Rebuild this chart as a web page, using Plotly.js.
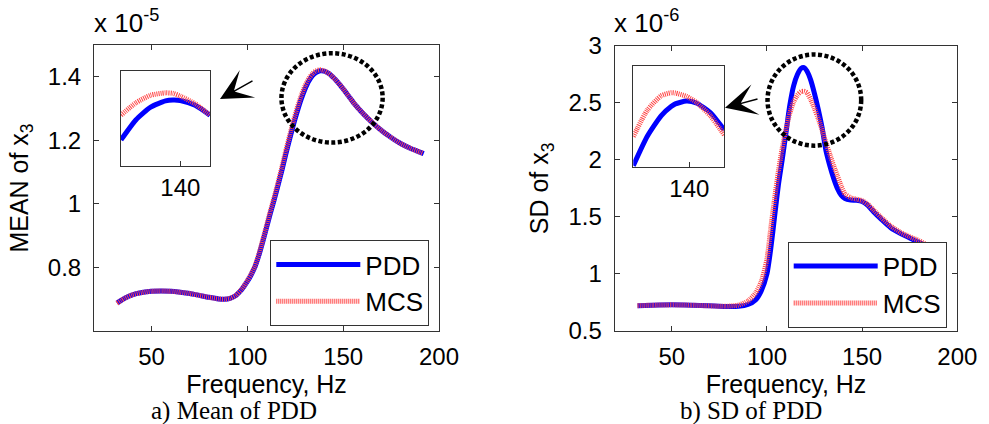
<!DOCTYPE html>
<html>
<head>
<meta charset="utf-8">
<script src="https://cdn.plot.ly/plotly-3.0.1.min.js"></script>
<style>html,body{margin:0;padding:0;background:#fff;}#chart{width:989px;height:424px;}</style>
</head>
<body>
<div id="chart"></div>
<script>
// ---- Left panel: mean of x3 (x 1e-5) ----
const meanFreq = [32,36,40,45,50,55,60,65,70,75,80,85,88,91,94,97,100,102,104,106,108,110,112,114,116,118,120,122,124,126,128,130,132,134,136,138,140,142,144,146,148,150,153,156,160,165,170,175,180,185,190,192];
const meanPDD  = [0.688,0.703,0.714,0.721,0.725,0.726,0.725,0.722,0.718,0.712,0.706,0.701,0.700,0.703,0.712,0.730,0.756,0.777,0.802,0.838,0.880,0.925,0.970,1.013,1.058,1.105,1.155,1.202,1.248,1.290,1.328,1.360,1.386,1.404,1.414,1.419,1.418,1.412,1.403,1.391,1.377,1.362,1.338,1.314,1.287,1.257,1.231,1.209,1.190,1.175,1.163,1.158];
const meanMCS  = [0.688,0.703,0.714,0.721,0.725,0.726,0.725,0.722,0.718,0.712,0.706,0.701,0.700,0.703,0.712,0.731,0.758,0.779,0.805,0.842,0.885,0.931,0.977,1.021,1.067,1.115,1.166,1.214,1.260,1.302,1.339,1.370,1.394,1.410,1.419,1.422,1.419,1.412,1.403,1.391,1.377,1.362,1.338,1.314,1.287,1.257,1.231,1.209,1.190,1.175,1.163,1.158];
// inset (zoom near 140 Hz)
const meanInsetFreq = [136,137,138,139,139.5,140,141,142];
const meanInsetPDD  = [1.4105,1.4147,1.4174,1.4187,1.4189,1.4188,1.4178,1.4157];
const meanInsetMCS  = [1.4157,1.4183,1.4199,1.4204,1.4203,1.4197,1.4181,1.4157];

// ---- Right panel: SD of x3 (x 1e-6) ----
const sdFreq = [32,40,50,60,70,78,85,90,94,97,100,102,104,106,108,110,112,114,116,118,119.5,121,123,125,127,129,131,133,135,137,139,141,144,147,150,153,156,160,165,170,175,180,185,190,192];
const sdPDD  = [0.720,0.724,0.727,0.724,0.718,0.712,0.714,0.730,0.770,0.850,1.000,1.220,1.500,1.780,2.000,2.240,2.480,2.650,2.750,2.805,2.810,2.780,2.700,2.580,2.440,2.280,2.080,1.950,1.840,1.750,1.690,1.660,1.648,1.645,1.635,1.600,1.545,1.480,1.405,1.355,1.315,1.275,1.235,1.195,1.180];
const sdMCS  = [0.720,0.724,0.727,0.724,0.718,0.714,0.725,0.760,0.830,0.930,1.130,1.400,1.660,1.900,2.100,2.270,2.410,2.510,2.570,2.600,2.602,2.590,2.530,2.450,2.360,2.260,2.150,2.050,1.950,1.860,1.770,1.700,1.668,1.655,1.642,1.610,1.560,1.495,1.420,1.365,1.325,1.290,1.245,1.205,1.190];
const sdInsetFreq = [136,137,138,138.7,139,139.8,140.5,141.5,142.5];
const sdInsetPDD  = [2.5016,2.5307,2.5511,2.5600,2.5626,2.5654,2.5635,2.5541,2.5368];
const sdInsetMCS  = [2.5302,2.5564,2.5707,2.5736,2.5733,2.5700,2.5642,2.5509,2.5319];

const xTicks = [50,100,150,200];
const meanTicks = [0.8,1,1.2,1.4];
const meanTickText = ['0.8','1','1.2','1.4'];
const sdTicks = [0.5,1,1.5,2,2.5,3];
const sdTickText = ['0.5','1','1.5','2','2.5','3'];
const insetTick = [140];

const W = 989, H = 424;
const px = v => v / W;
const py = v => 1 - v / H;

const BLUE = 'rgb(0,0,255)';
const RED = 'rgb(255,70,70)';
const pddLine = {color: BLUE, width: 5, shape: 'spline', smoothing: 0.6};
const mcsLine = {color: RED, width: 5, dash: '1px,1px', shape: 'spline', smoothing: 0.6};

const traces = [
  {x: meanFreq, y: meanPDD, xaxis: 'x', yaxis: 'y', mode: 'lines', name: 'PDD', line: pddLine, legend: 'legend'},
  {x: meanFreq, y: meanMCS, xaxis: 'x', yaxis: 'y', mode: 'lines', name: 'MCS', line: mcsLine, legend: 'legend'},
  {x: sdFreq, y: sdPDD, xaxis: 'x2', yaxis: 'y2', mode: 'lines', name: 'PDD', line: pddLine, legend: 'legend2'},
  {x: sdFreq, y: sdMCS, xaxis: 'x2', yaxis: 'y2', mode: 'lines', name: 'MCS', line: mcsLine, legend: 'legend2'},
  {x: meanInsetFreq, y: meanInsetPDD, xaxis: 'x3', yaxis: 'y3', mode: 'lines', line: pddLine, showlegend: false},
  {x: meanInsetFreq, y: meanInsetMCS, xaxis: 'x3', yaxis: 'y3', mode: 'lines', line: mcsLine, showlegend: false},
  {x: sdInsetFreq, y: sdInsetPDD, xaxis: 'x4', yaxis: 'y4', mode: 'lines', line: pddLine, showlegend: false},
  {x: sdInsetFreq, y: sdInsetMCS, xaxis: 'x4', yaxis: 'y4', mode: 'lines', line: mcsLine, showlegend: false}
];

const FONT = 'Arial, "Liberation Sans", sans-serif';
const SERIF = '"Times New Roman", "Liberation Serif", serif';
const axBase = {
  showgrid: false, zeroline: false, showline: true, linecolor: '#333', linewidth: 1,
  mirror: 'ticks', ticks: 'inside', ticklen: 5, tickcolor: '#333', tickwidth: 1,
  tickfont: {family: FONT, size: 24, color: '#000'}, ticklabelstandoff: 7
};
const titleFont = {family: FONT, size: 25, color: '#000'};

const layout = {
  width: W, height: H,
  margin: {l: 0, r: 0, t: 0, b: 0},
  paper_bgcolor: '#fff', plot_bgcolor: '#fff',
  font: {family: FONT, color: '#000'},
  xaxis: Object.assign({}, axBase, {domain: [px(94), px(439)], range: [20, 200], tickvals: xTicks, anchor: 'y', ticklabelstandoff: 4,
    title: {text: 'Frequency, Hz', font: titleFont, standoff: 2}}),
  yaxis: Object.assign({}, axBase, {domain: [py(331), py(45)], range: [0.6, 1.5], tickvals: meanTicks, ticktext: meanTickText, anchor: 'x',
    title: {text: 'MEAN of x<sub>3</sub>', font: titleFont, standoff: 12}}),
  xaxis2: Object.assign({}, axBase, {domain: [px(614.7), px(957.3)], range: [20, 200], tickvals: xTicks, anchor: 'y2', ticklabelstandoff: 4,
    title: {text: 'Frequency, Hz', font: titleFont, standoff: 2}}),
  yaxis2: Object.assign({}, axBase, {domain: [py(330.7), py(46)], range: [0.5, 3], tickvals: sdTicks, ticktext: sdTickText, anchor: 'x2',
    title: {text: 'SD of x<sub>3</sub>', font: titleFont, standoff: 12}}),
  xaxis3: Object.assign({}, axBase, {domain: [px(121), px(210)], range: [136, 142], tickvals: insetTick, mirror: true, anchor: 'y3', ticklabelstandoff: 0}),
  yaxis3: Object.assign({}, axBase, {domain: [py(166), py(71)], range: [1.405, 1.425], showticklabels: false, ticks: '', mirror: true, anchor: 'x3'}),
  xaxis4: Object.assign({}, axBase, {domain: [px(633.3), px(724.3)], range: [136, 142.5], tickvals: insetTick, mirror: true, anchor: 'y4', ticklabelstandoff: 0}),
  yaxis4: Object.assign({}, axBase, {domain: [py(167.3), py(66)], range: [2.5, 2.6], showticklabels: false, ticks: '', mirror: true, anchor: 'x4'}),
  legend: {x: px(270.3), y: py(240), xanchor: 'left', yanchor: 'top', bgcolor: '#fff', bordercolor: '#333', borderwidth: 1,
    font: {family: FONT, size: 26, color: '#000'}, itemwidth: 84, traceorder: 'normal'},
  legend2: {x: px(787.7), y: py(241.7), xanchor: 'left', yanchor: 'top', bgcolor: '#fff', bordercolor: '#333', borderwidth: 1,
    font: {family: FONT, size: 26, color: '#000'}, itemwidth: 84, traceorder: 'normal'},
  shapes: [
    {type: 'circle', xref: 'x', yref: 'y', x0: 117.8, x1: 170.6, y0: 1.193, y1: 1.474,
      line: {color: '#000', width: 4.5, dash: '4px,2.5px'}},
    {type: 'circle', xref: 'x2', yref: 'y2', x0: 100.3, x1: 149.5, y0: 2.125, y1: 2.925,
      line: {color: '#000', width: 4.5, dash: '4px,2.5px'}}
  ],
  annotations: [
    {xref: 'paper', yref: 'paper', x: px(92), y: py(40), xanchor: 'left', yanchor: 'bottom', showarrow: false,
      text: 'x 10<sup>-5</sup>', font: {family: FONT, size: 26, color: '#000'}},
    {xref: 'paper', yref: 'paper', x: px(612), y: py(40), xanchor: 'left', yanchor: 'bottom', showarrow: false,
      text: 'x 10<sup>-6</sup>', font: {family: FONT, size: 26, color: '#000'}},
    {xref: 'paper', yref: 'paper', x: px(233.7), y: py(411), xanchor: 'center', yanchor: 'middle', showarrow: false,
      text: 'a) Mean of PDD', font: {family: SERIF, size: 25, color: '#000'}},
    {xref: 'paper', yref: 'paper', x: px(750.8), y: py(411), xanchor: 'center', yanchor: 'middle', showarrow: false,
      text: 'b) SD of PDD', font: {family: SERIF, size: 25, color: '#000'}},
    {xref: 'paper', yref: 'paper', x: px(220), y: py(99), ax: 34, ay: -19, text: '', showarrow: true,
      arrowhead: 3, arrowsize: 3.5, arrowwidth: 1.5, arrowcolor: '#000', standoff: 0},
    {xref: 'paper', yref: 'paper', x: px(725), y: py(107.7), ax: 34, ay: -9, text: '', showarrow: true,
      arrowhead: 3, arrowsize: 3.5, arrowwidth: 1.5, arrowcolor: '#000', standoff: 0}
  ]
};

Plotly.newPlot('chart', traces, layout, {staticPlot: true, displayModeBar: false});
</script>
</body>
</html>
